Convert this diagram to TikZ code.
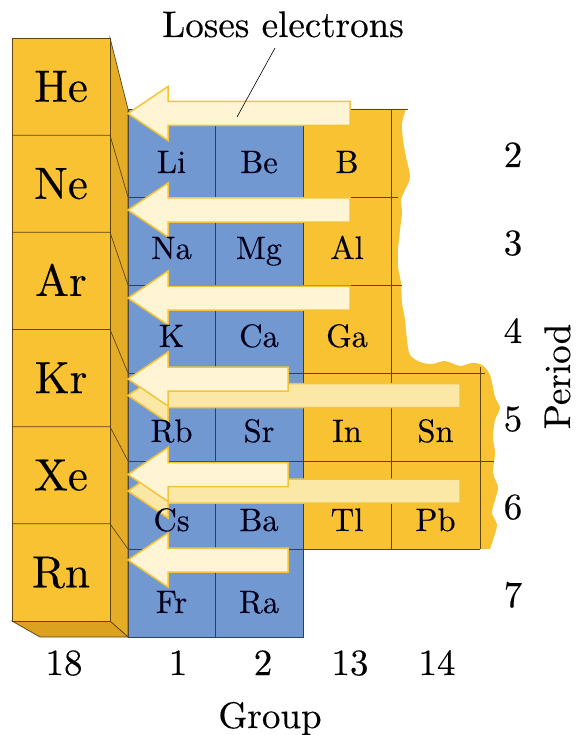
\documentclass[tikz,border=0pt]{standalone}
\usepackage{fontspec}
\setmainfont{lmroman10-regular}[Extension=.otf, FakeBold=0.3]
\definecolor{gold}{HTML}{F8C232}
\definecolor{goldside}{HTML}{E5AC26}
\definecolor{goldbottom}{HTML}{DCA21F}
\definecolor{blu}{HTML}{7298D2}
\definecolor{arrfill}{HTML}{FFF5D4}
\definecolor{arrfilltwo}{HTML}{FCE8A6}
\definecolor{arrline}{HTML}{F3C43A}
\definecolor{gridy}{HTML}{5C4512}
\definecolor{gridb}{HTML}{2E3F66}
\begin{document}
\begin{tikzpicture}[x=1pt,y=-1pt,
  noble/.style={font=\fontsize{45}{50}\selectfont, anchor=base, inner sep=0pt},
  cell/.style={font=\fontsize{32.5}{36}\selectfont, anchor=base, inner sep=0pt, text=black!90!blue},
  lab/.style={font=\fontsize{37}{42}\selectfont, anchor=base, inner sep=0pt},
  arrfront/.style={draw=arrline, fill=arrfill, line width=1.5pt, line join=miter},
  arrback/.style={draw=arrline, fill=arrfilltwo, line width=1.5pt, line join=miter},
  gline/.style={draw=gridy, line width=0.7pt},
  bline/.style={draw=gridb, line width=0.7pt},
  nline/.style={draw=gridy, line width=0.7pt}
]
\useasboundingbox (0,0) rectangle (578,735);
\fill[white] (0,0) rectangle (578,735);

% ---- groups 13/14 torn region
\fill[gold] (303,109) -- (406,109) -- plot[smooth, tension=0.5] coordinates {
  (406,109) (402,123) (403,140) (406,157) (410,177) (405,190) (401,200)
  (402,213) (400,230) (398,250) (398,267) (401,283) (402,303) (405,320)
  (407,340) (410,355) (420,362) (432,364) (445,361) (460,366) (472,363)
  (482,365) (490,375) (495,397) (500,408) (495,420) (493,437) (495,453)
  (493,473) (498,487) (495,500) (492,513) (497,525) (493,540) (490,549)}
  -- (303,549) -- cycle;
\draw[gline] (303,109) -- (408,109);
\draw[gline] (303,197) -- (398,197);
\draw[gline] (303,285) -- (402,285);
\draw[gline] (303,373) -- (485,373);
\draw[gline] (303,461) -- (494,461);
\draw[gline] (303,549) -- (480,549);
\draw[gline] (391,109) -- (391,549);
\draw[gline] (480,367) -- (480,549);

% ---- groups 1/2 blue block
\filldraw[fill=blu, draw=gridb, line width=0.7pt] (128,109) rectangle (303,637);
\foreach \yy in {197,285,373,461,549} \draw[bline] (128,\yy) -- (303,\yy);
\draw[bline] (215,109) -- (215,637);

% ---- noble gas column (3D)
\filldraw[fill=goldside, draw=gridy, line width=0.7pt] (110,38) -- (128,109) -- (128,637) -- (110,621) -- cycle;
\filldraw[fill=goldbottom, draw=gridy, line width=0.7pt] (12,621) -- (110,621) -- (128,637) -- (40,637) -- cycle;
\filldraw[fill=gold, draw=gridy, line width=0.7pt] (12,38) rectangle (110,621);
\draw[nline] (12,135.2) -- (110,135.2) -- (128,197);
\draw[nline] (12,232.3) -- (110,232.3) -- (128,285);
\draw[nline] (12,329.5) -- (110,329.5) -- (128,373);
\draw[nline] (12,426.7) -- (110,426.7) -- (128,461);
\draw[nline] (12,523.8) -- (110,523.8) -- (128,549);

% ---- arrows (tip x=128, head base x=168)
\foreach \c/\e in {395.5/460, 491/460}
  \draw[arrback] (128,\c) -- (168,\c-27) -- (168,\c-12) -- (\e,\c-12) -- (\e,\c+12) -- (168,\c+12) -- (168,\c+27) -- cycle;
\foreach \c/\e in {113.5/350, 210/350, 298/350, 379/288, 474.5/288, 560/288}
  \draw[arrfront] (128,\c) -- (168,\c-27) -- (168,\c-12) -- (\e,\c-12) -- (\e,\c+12) -- (168,\c+12) -- (168,\c+27) -- cycle;

% ---- labels
\node[lab] (loses) at (283,37) {Loses electrons};
\coordinate (ptrA) at (275,48);
\coordinate (ptrB) at (237,117);
\draw[line width=0.6pt] (ptrA) -- (ptrB);

\node[noble] (He) at (61,101.6) {He};
\node[noble] (Ne) at (61,198.8) {Ne};
\node[noble] (Ar) at (61,295.9) {Ar};
\node[noble] (Kr) at (61,393.1) {Kr};
\node[noble] (Xe) at (61,490.3) {Xe};
\node[noble] (Rn) at (61,587.4) {Rn};

\node[cell] (Li) at (171.5,173) {Li};
\node[cell] (Be) at (259,173) {Be};
\node[cell] (B)  at (347,173) {B};
\node[cell] (Na) at (171.5,259) {Na};
\node[cell] (Mg) at (259,259) {Mg};
\node[cell] (Al) at (347,259) {Al};
\node[cell] (K)  at (171.5,347) {K};
\node[cell] (Ca) at (259,347) {Ca};
\node[cell] (Ga) at (347,347) {Ga};
\node[cell] (Rb) at (171.5,442) {Rb};
\node[cell] (Sr) at (259,442) {Sr};
\node[cell] (In) at (347,442) {In};
\node[cell] (Sn) at (435.5,442) {Sn};
\node[cell] (Cs) at (171.5,531) {Cs};
\node[cell] (Ba) at (259,531) {Ba};
\node[cell] (Tl) at (347,531) {Tl};
\node[cell] (Pb) at (435.5,531) {Pb};
\node[cell] (Fr) at (171.5,613) {Fr};
\node[cell] (Ra) at (259,613) {Ra};

\node[lab] (p2) at (513,167) {2};
\node[lab] (p3) at (513,255) {3};
\node[lab] (p4) at (513,343) {4};
\node[lab] (p5) at (513,431) {5};
\node[lab] (p6) at (513,519) {6};
\node[lab] (p7) at (513,607) {7};
\node[lab, rotate=90] (period) at (570,376.5) {Period};

\node[lab] (g18) at (64,675) {18};
\node[lab] (g1) at (178,675) {1};
\node[lab] (g2) at (263,675) {2};
\node[lab] (g13) at (350,675) {13};
\node[lab] (g14) at (437,675) {14};
\node[lab] (group) at (270,728) {Group};
\end{tikzpicture}
\end{document}
